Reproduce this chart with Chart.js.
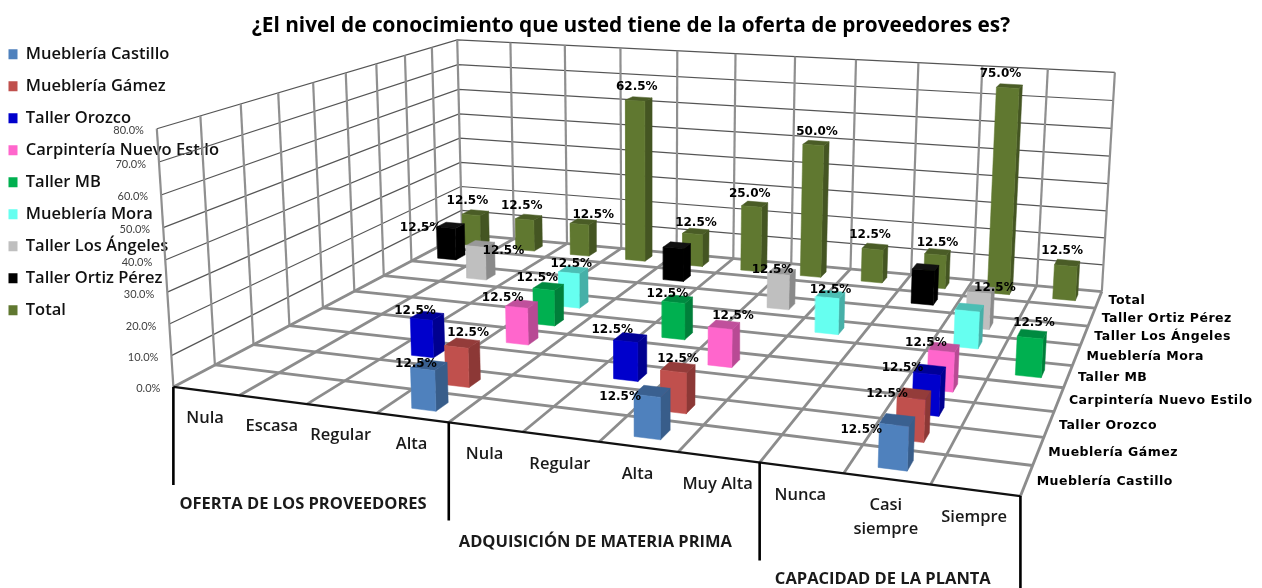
<!doctype html>
<html lang="es">
  <head>
    <meta charset="UTF-8" />
    <title>Nivel de conocimiento de la oferta de proveedores</title>
    <script src="https://cdn.jsdelivr.net/npm/chart.js"></script>
    <style>
      html, body { margin: 0; background: #fff; overflow: hidden; }
      #wrap { width: 1262px; height: 588px; }
    </style>
  </head>
  <body>
    <div id="wrap"><canvas id="chart3d"></canvas></div>

    <script>
      const titleText = "¿El nivel de conocimiento que usted tiene de la oferta de proveedores es?";
      const categories = ["Nula", "Escasa", "Regular", "Alta", "Nula", "Regular", "Alta", "Muy Alta", "Nunca", ["Casi", "siempre"], "Siempre"];
      const groupNames = ["OFERTA DE LOS PROVEEDORES", "ADQUISICIÓN DE MATERIA PRIMA", "CAPACIDAD DE LA PLANTA"];
      const groupEdges = [0, 4, 8, 11];
      const seriesNames = ["Mueblería Castillo", "Mueblería Gámez", "Taller Orozco", "Carpintería Nuevo Estilo", "Taller MB", "Mueblería Mora", "Taller Los Ángeles", "Taller Ortiz Pérez", "Total"];
      const percentTicks = [0, 10, 20, 30, 40, 50, 60, 70, 80];

      const castillo = [null, null, null, 12.5, null, null, 12.5, null, null, 12.5, null];
      const gamez = [null, null, null, 12.5, null, null, 12.5, null, null, 12.5, null];
      const orozco = [null, null, 12.5, null, null, 12.5, null, null, null, 12.5, null];
      const nuevoEstilo = [null, null, null, 12.5, null, null, 12.5, null, null, 12.5, null];
      const tallerMB = [null, null, null, 12.5, null, 12.5, null, null, null, null, 12.5];
      const mora = [null, null, null, 12.5, null, null, null, 12.5, null, 12.5, null];
      const losAngeles = [null, 12.5, null, null, null, null, 12.5, null, null, 12.5, null];
      const ortizPerez = [12.5, null, null, null, 12.5, null, null, null, 12.5, null, null];
      const total = [12.5, 12.5, 12.5, 62.5, 12.5, 25, 50, 12.5, 12.5, 75, 12.5];
      const allSeries = [castillo, gamez, orozco, nuevoEstilo, tallerMB, mora, losAngeles, ortizPerez, total];

      const frontColors = ["#4F81BD", "#C0504D", "#0000CC", "#FF66CC", "#00B050", "#66FFF0", "#BFBFBF", "#000000", "#607830"];
      const sideColors = ["#385D8A", "#8C3836", "#000090", "#B84A94", "#007F3A", "#46B0A8", "#8A8A8A", "#000000", "#445522"];
      const topColors = ["#3A6090", "#943C3A", "#000098", "#C0509C", "#008A40", "#4CBEB4", "#999999", "#111111", "#4A5C26"];

      // where the box of the 3D plot sits in the picture: [category, series, percent, px, py]
      const calibration = [
        [0, 0, 0, 173, 386], [4, 0, 0, 450, 423], [8, 0, 0, 759, 463], [11, 0, 0, 1020, 497],
        [0, 9, 0, 462, 235], [11, 9, 0, 1102, 290],
        [0, 0, 80, 157, 128], [0, 9, 80, 457, 40], [11, 9, 80, 1115, 73],
      ];

      // label nudges in px from the default spot above a bar: "series-category"
      const labelShift = {
        "0-3": [-13, 11], "0-6": [-32, 18], "0-9": [-36, 22],
        "1-3": [6, 2], "1-6": [0, 4], "1-9": [-27, 12],
        "2-2": [-12, 7], "2-5": [-18, 4], "2-9": [-27, 10],
        "3-3": [-19, 6], "3-6": [9, 3], "3-9": [-18, 8],
        "4-3": [-11, 4], "4-5": [-10, 7], "4-10": [2, 1],
        "5-3": [-2, 6], "5-7": [0, 8],
        "6-1": [23, 19], "6-6": [-9, 10], "6-9": [14, 10],
        "7-0": [-30, 15],
        "8-0": [-8, 0], "8-1": [-7, 1], "8-2": [10, 5], "8-3": [-2, 0], "8-4": [0, 3], "8-5": [-5, 2],
        "8-6": [1, 1], "8-7": [-5, 0], "8-8": [0, 3], "8-9": [-9, 0], "8-10": [-5, 0],
      };
      // these labels do not show in the picture
      const hiddenLabels = ["5-9", "7-4", "7-8"];

      const barWidth = 0.34;
      const barDepth = 0.36;

      // least squares fit of the 3x4 camera matrix from the calibration points
      function fitCamera(pts) {
        const rows = [];
        const rhs = [];
        pts.forEach(([u, v, p, px, py]) => {
          const z = p / 80;
          const x = px / 1000;
          const y = py / 1000;
          rows.push([u, v, z, 1, 0, 0, 0, 0, -x * u, -x * v, -x * z]);
          rhs.push(x);
          rows.push([0, 0, 0, 0, u, v, z, 1, -y * u, -y * v, -y * z]);
          rhs.push(y);
        });
        const n = 11;
        const A = [];
        for (let i = 0; i < n; i++) {
          A.push([]);
          for (let j = 0; j < n; j++) {
            A[i].push(rows.reduce((s, r) => s + r[i] * r[j], 0));
          }
          A[i].push(rows.reduce((s, r, k) => s + r[i] * rhs[k], 0));
        }
        for (let c = 0; c < n; c++) {
          let best = c;
          for (let r = c + 1; r < n; r++) {
            if (Math.abs(A[r][c]) > Math.abs(A[best][c])) best = r;
          }
          [A[c], A[best]] = [A[best], A[c]];
          for (let r = 0; r < n; r++) {
            if (r === c) continue;
            const f = A[r][c] / A[c][c];
            for (let k = c; k <= n; k++) A[r][k] -= f * A[c][k];
          }
        }
        return A.map((row, i) => row[n] / row[i]);
      }

      const cam = fitCamera(calibration);

      function project(u, v, p) {
        const z = p / 80;
        const w = cam[8] * u + cam[9] * v + cam[10] * z + 1;
        return {
          x: (1000 * (cam[0] * u + cam[1] * v + cam[2] * z + cam[3])) / w,
          y: (1000 * (cam[4] * u + cam[5] * v + cam[6] * z + cam[7])) / w,
        };
      }

      const datasets = [];

      function addLine(points, color, width) {
        datasets.push({
          data: points,
          showLine: true,
          borderColor: color,
          borderWidth: width,
          pointRadius: 0,
          fill: false,
          clip: false,
        });
      }

      function addFace(points, color) {
        datasets.push({
          data: points.concat([points[0]]),
          showLine: true,
          backgroundColor: color,
          borderColor: color,
          borderWidth: 0.5,
          pointRadius: 0,
          fill: "shape",
          clip: false,
        });
      }

      const nCat = categories.length;
      const nSer = seriesNames.length;
      const floorGray = "#8C8C8C";
      const wallGray = "#8F8F8F";
      const wallDark = "#555555";

      // walls
      percentTicks.forEach((p) => {
        addLine([project(0, 0, p), project(0, nSer, p), project(nCat, nSer, p)], wallDark, 1.2);
      });
      for (let v = 0; v <= nSer; v++) addLine([project(0, v, 0), project(0, v, 80)], wallGray, 2.2);
      for (let u = 1; u <= nCat; u++) addLine([project(u, nSer, 0), project(u, nSer, 80)], wallGray, 2.2);

      // floor
      for (let u = 0; u <= nCat; u++) addLine([project(u, 0, 0), project(u, nSer, 0)], floorGray, 2.8);
      for (let v = 1; v <= nSer; v++) addLine([project(0, v, 0), project(nCat, v, 0)], floorGray, 2.8);

      // front edge and the drop lines of the two level category axis
      addLine([project(0, 0, 0), project(nCat, 0, 0)], "#111111", 2.4);
      groupEdges.forEach((u) => {
        const a = project(u, 0, 0);
        addLine([a, { x: a.x, y: a.y + 98 }], "#000000", 2.6);
      });

      // bars, back row first
      for (let s = nSer - 1; s >= 0; s--) {
        allSeries[s].forEach((val, c) => {
          if (val === null) return;
          const u0 = c + 0.5 - barWidth / 2;
          const u1 = c + 0.5 + barWidth / 2;
          const v0 = s + 0.5 - barDepth / 2;
          const v1 = s + 0.5 + barDepth / 2;
          addFace([project(u1, v0, 0), project(u1, v1, 0), project(u1, v1, val), project(u1, v0, val)], sideColors[s]);
          addFace([project(u0, v0, val), project(u1, v0, val), project(u1, v1, val), project(u0, v1, val)], topColors[s]);
          addFace([project(u0, v0, 0), project(u1, v0, 0), project(u1, v0, val), project(u0, v0, val)], frontColors[s]);
        });
      }

      // chart.js paints the first dataset last, so flip to keep the back to front order
      datasets.reverse();

      // empty datasets on top of the list only feed the legend
      const legendSets = seriesNames.map((name, s) => ({
        label: name,
        data: [],
        backgroundColor: frontColors[s],
        borderColor: frontColors[s],
        borderWidth: 0,
        showLine: true,
        fill: false,
      }));

      const textPlugin = {
        id: "textPlugin",
        afterLayout(chart) {
          chart.legend.left = -7;
          chart.legend.top = 30.5;
        },
        afterDatasetsDraw(chart) {
          const { ctx, scales } = chart;
          const put = (text, p, dx, dy) => {
            ctx.fillText(text, scales.x.getPixelForValue(p.x) + dx, scales.y.getPixelForValue(p.y) + dy);
          };
          ctx.save();
          ctx.textBaseline = "middle";

          // percent axis
          ctx.font = "11px Lato";
          ctx.fillStyle = "#404040";
          ctx.textAlign = "right";
          percentTicks.forEach((p) => put(p.toFixed(1) + "%", project(0, 0, p), -13, 2));

          // category labels
          ctx.font = "600 16.5px 'Open Sans'";
          ctx.fillStyle = "#1A1A1A";
          ctx.textAlign = "center";
          categories.forEach((cat, c) => {
            const a = project(c + 0.5, 0, 0);
            if (Array.isArray(cat)) {
              cat.forEach((line, i) => put(line, a, -1, 26 + i * 24));
            } else {
              put(cat, a, -1, 27);
            }
          });

          // group labels
          ctx.font = "bold 16.5px 'Open Sans'";
          groupNames.forEach((name, g) => {
            const a = project((groupEdges[g] + groupEdges[g + 1]) / 2, 0, 0);
            put(name, a, -4, 100);
          });

          // series labels on the depth axis
          ctx.font = "bold 12.5px 'DejaVu Sans'";
          ctx.letterSpacing = "0.5px";
          ctx.fillStyle = "#000000";
          ctx.textAlign = "left";
          seriesNames.forEach((name, s) => put(name, project(nCat, s + 0.5, 0), 10, 1.5));
          ctx.letterSpacing = "0px";

          // value labels
          ctx.font = "bold 12px 'DejaVu Sans'";
          ctx.textAlign = "center";
          allSeries.forEach((vals, s) => {
            vals.forEach((val, c) => {
              if (val === null || hiddenLabels.includes(s + "-" + c)) return;
              const shift = labelShift[s + "-" + c] || [0, 0];
              put(val.toFixed(1) + "%", project(c + 0.5, s + 0.5, val), shift[0], shift[1] - 12);
            });
          });
          ctx.restore();
        },
      };

      new Chart(document.getElementById("chart3d"), {
        type: "scatter",
        data: { datasets: legendSets.concat(datasets) },
        plugins: [textPlugin],
        options: {
          responsive: true,
          maintainAspectRatio: false,
          animation: false,
          events: [],
          scales: {
            x: { type: "linear", display: false, min: 0, max: 1262 },
            y: { type: "linear", display: false, reverse: true, min: 38, max: 588 },
          },
          plugins: {
            tooltip: { enabled: false },
            title: {
              display: true,
              text: titleText,
              color: "#000000",
              font: { family: "Open Sans", size: 20.8, weight: "bold", lineHeight: 1.2 },
              padding: { top: 13.5, bottom: -0.5 },
            },
            legend: {
              position: "chartArea",
              align: "start",
              labels: {
                filter: (item) => item.datasetIndex < seriesNames.length,
                boxWidth: 9,
                boxHeight: 10,
                padding: 15.5,
                color: "#111111",
                font: { family: "Open Sans", size: 16.5, weight: "600" },
              },
            },
          },
        },
      });
    </script>
  </body>
</html>
